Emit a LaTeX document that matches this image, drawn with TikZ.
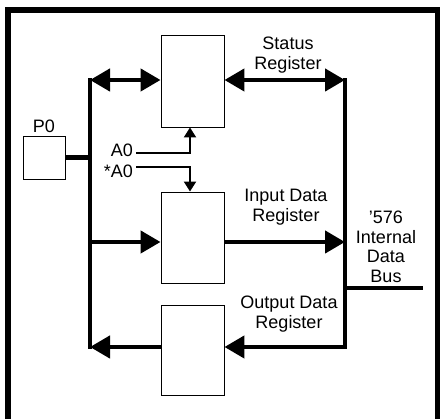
\documentclass[tikz,border=0pt]{standalone}
\usepackage{fontspec}
\setmainfont{Liberation Sans}
\usetikzlibrary{arrows.meta}
\begin{document}
\begin{tikzpicture}[x=1pt,y=-1pt,
  reg/.style={draw, line width=0.9pt, minimum width=63pt, inner sep=0pt},
  bus/.style={line width=4.4pt},
  bighead/.style={Triangle[length=20pt,width=22pt]},
  big/.style={bus, -{Triangle[length=20pt,width=22pt]}},
  ctl/.style={line width=2pt, -{Triangle[length=10pt,width=12pt]}},
  lbl/.style={font=\fontsize{18}{19.5}\selectfont, align=center, inner sep=0pt}]
\useasboundingbox (0,0) rectangle (440,419);

% outer frame, open at the bottom
\draw[line width=6pt] (8,419) -- (8,10) -- (438,10) -- (438,419);

% registers and port
\node[reg, minimum height=92pt] (status) at (192.5,81) {};
\node[reg, minimum height=91pt] (input)  at (192.5,237.5) {};
\node[reg, minimum height=90pt] (output) at (192.5,350) {};
\node[draw, line width=0.9pt, minimum width=42pt, minimum height=43pt, inner sep=0pt] (p0) at (44,157.5) {};
\node[lbl, anchor=base] (p0lbl) at (44,133) {P0};

% bus junction points
\coordinate (lt) at (90,80);
\coordinate (lin) at (90,242);
\coordinate (lb) at (90,347);
\coordinate (rt) at (345,80);
\coordinate (rin) at (345,242);
\coordinate (rb) at (345,347);
\coordinate (rs) at (345,288);
\coordinate (stub) at (423,288);

% vertical buses
\draw[bus, line cap=rect] (lt) -- (lb);
\draw[bus, line cap=rect] (rt) -- (rb);
\draw[bus] (rs) -- (stub);
\draw[bus] (p0.east) -- (p0.east -| lt);

% data paths
\draw[bus, {Triangle[length=20pt,width=22pt]}-{Triangle[length=20pt,width=22pt]}] (lt) -- (status.west |- lt);
\draw[bus, {Triangle[length=20pt,width=22pt]}-{Triangle[length=20pt,width=22pt]}] (status.east |- rt) -- (rt);
\draw[big] (lin) -- (input.west |- lin);
\draw[big] (input.east |- rin) -- (rin);
\draw[big] (rb) -- (output.east |- rb);
\draw[big] (output.west |- lb) -- (lb);

% address select lines
\coordinate (a0) at (136,153);
\coordinate (na0) at (136,167);
\draw[ctl] (a0) -| ([xshift=-2.5pt]status.south);
\draw[ctl] (na0) -| ([xshift=-2.5pt]input.north);
\node[lbl, anchor=base east] (a0lbl) at (133,157) {A0};
\node[lbl, anchor=base east] (na0lbl) at (133,178) {*A0};

% labels
\node[lbl, anchor=north] (slbl) at (288,37) {Status\\Register};
\node[lbl, anchor=north] (ilbl) at (286,189) {Input Data\\Register};
\node[lbl, anchor=north] (olbl) at (289,296) {Output Data\\Register};
\node[lbl, anchor=north] (blbl) at (386,211) {'576\\Internal\\Data\\Bus};
\end{tikzpicture}
\end{document}
